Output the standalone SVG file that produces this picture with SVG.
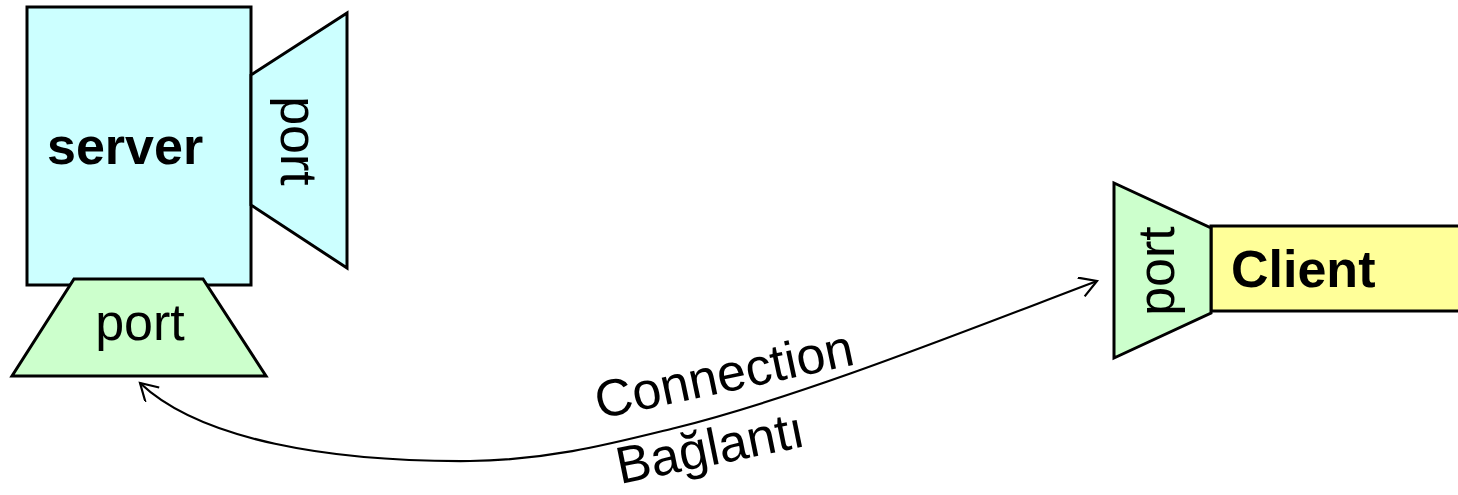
<svg xmlns="http://www.w3.org/2000/svg" width="1458" height="495" viewBox="0 0 1458 495">
<style>
.shape{stroke:#000;stroke-width:3;stroke-linejoin:miter}
.cyan{fill:#ccffff}
.green{fill:#ccffcc}
.yellow{fill:#ffff99}
.t{font-family:"Liberation Sans",Arial,sans-serif;font-size:52px;fill:#000}
.b{font-weight:bold}
.conn{fill:none;stroke:#000;stroke-width:2.2}
</style>
<defs>
<marker id="open" markerUnits="userSpaceOnUse" markerWidth="24" markerHeight="24" refX="20" refY="10" orient="auto-start-reverse" viewBox="0 0 24 24">
<path d="M3,0 L20,10 L3,20" fill="none" stroke="#000" stroke-width="2.2"/>
</marker>
</defs>
<g id="server">
<rect class="shape cyan" x="27" y="7" width="224" height="278"/>
<text class="t b" x="47" y="164">server</text>
</g>
<g id="server-port-right">
<polygon class="shape cyan" points="251,75 347,13 347,268 251,205"/>
<text class="t" transform="translate(281,141) rotate(90)" text-anchor="middle">port</text>
</g>
<g id="server-port-bottom">
<polygon class="shape green" points="74,279 203,279 266,376 12,376"/>
<text class="t" x="140" y="340" text-anchor="middle">port</text>
</g>
<g id="client">
<rect class="shape yellow" x="1211" y="226" width="260" height="85"/>
<text class="t b" x="1231" y="287">Client</text>
</g>
<g id="client-port">
<polygon class="shape green" points="1114,183 1211,228 1211,313 1114,358"/>
<text class="t" transform="translate(1174,271) rotate(-90)" text-anchor="middle">port</text>
</g>
<g id="connectors">
<path class="conn" d="M140,383 C200,440 330,462 470,461 C550,460 610,444 675,428 C800,397 960,333 1097,281" marker-start="url(#open)" marker-end="url(#open)"/>
<text class="t" transform="translate(599,419) rotate(-12)">Connection</text>
<text class="t" transform="translate(620,484) rotate(-11.5)">Bağlantı</text>
</g>
</svg>
